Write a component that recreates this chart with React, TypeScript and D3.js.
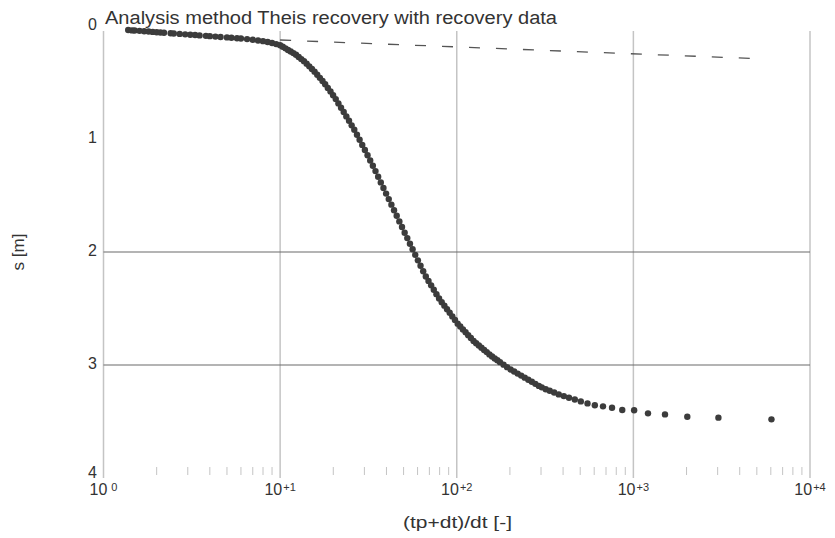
import React from "react";
import * as d3 from "d3";

const titleText = "Analysis method Theis recovery with recovery data";
const xTitle = "(tp+dt)/dt [-]";
const yTitle = "s [m]";

const xDecades = [1, 10, 100, 1000, 10000];
const xSup = ["0", "+1", "+2", "+3", "+4"];
const yTicks = [0, 1, 2, 3, 4];
const yGridLines = [2, 3];

// (tp+dt)/dt
const ratio = [
  1.38, 1.45, 1.5, 1.6, 1.7, 1.8, 1.9, 2.0, 2.1, 2.2, 2.4, 2.5, 2.7, 2.9, 3.1, 3.3, 3.5, 3.8, 4.0, 4.3,
  4.6, 5.0, 5.3, 5.7, 6.0, 6.5, 7.0, 7.5, 8.0, 8.5, 9.0, 9.5,
  10.0, 10.35, 10.72, 11.09, 11.48, 11.89, 12.3, 12.74, 13.18, 13.65, 14.13, 14.62, 15.14, 15.67, 16.22,
  16.79, 17.38, 17.99, 18.62, 19.28, 19.95, 20.65, 21.38, 22.13, 22.91, 23.71, 24.55, 25.41, 26.3, 27.23,
  28.18, 29.17, 30.2, 31.26, 32.36, 33.5, 34.67, 35.89, 37.15, 38.46, 39.81, 41.21, 42.66, 44.16, 45.71,
  47.32, 48.98, 50.7, 52.48, 54.33, 56.23, 58.21, 60.26, 62.37, 64.57, 66.83, 69.18, 71.61, 74.13, 76.74,
  79.43, 82.22, 85.11, 88.1, 91.2, 94.41, 97.72, 101.2, 104.7, 108.4, 112.2, 116.1, 120.2, 124.5, 128.8,
  133.4, 138.0, 142.9, 147.9, 153.1, 158.5, 164.1, 169.8, 175.8,
  184.1, 192.8, 201.8, 211.3, 221.3, 231.7, 242.7, 254.1, 266.1, 278.6, 291.7,
  303, 319, 336, 356, 378, 404, 432, 466, 504, 550, 605, 673, 757, 865, 1010, 1210, 1510, 2020, 3030, 6050,
];

// drawdown s [m]
const drawdown = [
  0.036, 0.039, 0.04, 0.043, 0.046, 0.049, 0.052, 0.055, 0.057, 0.06, 0.064, 0.066, 0.07, 0.074, 0.077,
  0.08, 0.083, 0.087, 0.09, 0.094, 0.097, 0.101, 0.104, 0.108, 0.111, 0.116, 0.122, 0.128, 0.134, 0.141,
  0.15, 0.16,
  0.17, 0.184, 0.198, 0.212, 0.226, 0.24, 0.255, 0.274, 0.293, 0.311, 0.333, 0.357, 0.38, 0.404, 0.431,
  0.459, 0.487, 0.515, 0.548, 0.58, 0.613, 0.647, 0.685, 0.723, 0.761, 0.8, 0.839, 0.879, 0.918, 0.962,
  1.007, 1.052, 1.097, 1.144, 1.19, 1.237, 1.284, 1.334, 1.384, 1.434, 1.483, 1.532, 1.581, 1.63, 1.679,
  1.729, 1.779, 1.829, 1.877, 1.927, 1.976, 2.025, 2.074, 2.122, 2.171, 2.217, 2.256, 2.295, 2.334, 2.373,
  2.412, 2.444, 2.475, 2.507, 2.538, 2.57, 2.601, 2.634, 2.659, 2.685, 2.71, 2.736, 2.761, 2.787, 2.808,
  2.828, 2.847, 2.867, 2.886, 2.906, 2.925, 2.942, 2.958, 2.975,
  2.997, 3.019, 3.04, 3.058, 3.076, 3.094, 3.112, 3.13, 3.148, 3.167, 3.185,
  3.198, 3.214, 3.228, 3.244, 3.26, 3.275, 3.29, 3.305, 3.322, 3.34, 3.356, 3.366, 3.378, 3.398, 3.4,
  3.428, 3.437, 3.458, 3.466, 3.481,
];

// straight-line fit (dashed)
const fitRatio = [10, 5000];
const fitS = [0.124, 0.289];

const W = 835;
const H = 538;

export default function App() {
  const x = d3.scaleLog().domain([1, 10000]).range([103.5, 810]);
  const y = d3.scaleLinear().domain([0, 4]).range([26, 478]);

  const points = ratio.map((r, i) => ({ r, s: drawdown[i] })).filter((p) => p.s !== undefined);
  const fit = fitRatio.map((r, i) => [r, fitS[i]] as [number, number]);
  const line = d3
    .line<[number, number]>()
    .x((d) => x(d[0]))
    .y((d) => y(d[1]));

  const minor: number[] = [];
  for (let d = 0; d < 4; d++) {
    for (let m = 2; m <= 9; m++) minor.push(m * Math.pow(10, d));
  }

  const font = "'Liberation Sans', Arial, sans-serif";

  return (
    <svg
      width={W}
      height={H}
      style={{ position: "absolute", left: 0, top: 0, background: "#fff" }}
      fontFamily={font}
    >
      <rect x={0} y={0} width={W} height={H} fill="#fff" />
      {/* vertical grid lines + axis */}
      {xDecades.map((v) => (
        <line
          key={"vg" + v}
          x1={x(v)}
          x2={x(v)}
          y1={y(0) + 5}
          y2={y(4)}
          stroke="#c4c4c4"
          strokeWidth={1.5}
        />
      ))}
      {/* minor ticks */}
      {minor.map((v) => (
        <line
          key={"mt" + v}
          x1={x(v)}
          x2={x(v)}
          y1={y(4) - 11}
          y2={y(4) - 3}
          stroke="#c4c4c4"
          strokeWidth={1}
        />
      ))}
      {/* horizontal grid lines */}
      {yGridLines.map((v) => (
        <line
          key={"hg" + v}
          x1={x(1)}
          x2={x(10000)}
          y1={y(v)}
          y2={y(v)}
          stroke="#6a6a6a"
          strokeWidth={1.2}
        />
      ))}
      {/* dashed fit line */}
      <path
        d={line(fit) || ""}
        fill="none"
        stroke="#555"
        strokeWidth={1.3}
        strokeDasharray="11 16"
      />
      {/* data points */}
      {points.map((p, i) => (
        <circle key={"p" + i} cx={x(p.r)} cy={y(p.s)} r={3.2} fill="#3c3c3c" />
      ))}
      {/* y tick labels */}
      {yTicks.map((v) => (
        <text
          key={"yt" + v}
          x={97}
          y={Math.min(y(v) - 2, 472)}
          textAnchor="end"
          dominantBaseline="central"
          fontSize={16}
          fill="#333"
        >
          {v}
        </text>
      ))}
      {/* x tick labels */}
      {xDecades.map((v, i) => (
        <text key={"xt" + v} x={x(v)} y={495} textAnchor="middle" fontSize={16} fill="#333">
          <tspan>10</tspan>
          <tspan dx={i === 0 ? 4 : 1} dy={-4} fontSize={11}>
            {xSup[i]}
          </tspan>
        </text>
      ))}
      {/* title */}
      <text
        x={105}
        y={24}
        fontSize={18}
        fill="#333"
        textLength={452}
        lengthAdjust="spacingAndGlyphs"
      >
        {titleText}
      </text>
      {/* x axis title */}
      <text
        x={403}
        y={528}
        fontSize={17}
        fill="#333"
        textLength={109}
        lengthAdjust="spacingAndGlyphs"
      >
        {xTitle}
      </text>
      {/* y axis title */}
      <text
        transform={`translate(24,252) rotate(-90)`}
        textAnchor="middle"
        fontSize={17}
        fill="#333"
      >
        {yTitle}
      </text>
    </svg>
  );
}
